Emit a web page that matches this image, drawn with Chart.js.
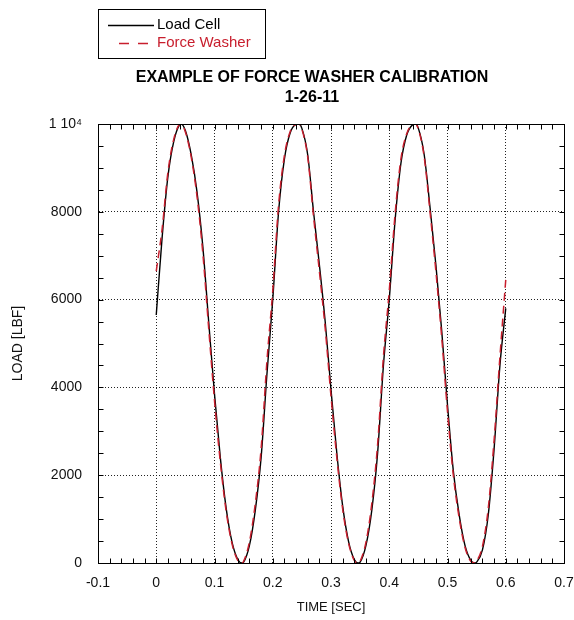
<!DOCTYPE html>
<html>
<head>
<meta charset="utf-8">
<script src="https://cdn.jsdelivr.net/npm/chart.js@4/dist/chart.umd.min.js"></script>
<style>
  body { margin: 0; background: #fff; }
  canvas { display: block; }
</style>
</head>
<body>
<canvas id="washer-chart" width="574" height="620"></canvas>
<script>
// sample times (sec)
var times = [0, 0.01, 0.02, 0.03, 0.04, 0.043, 0.05, 0.06, 0.07, 0.08, 0.09, 0.10, 0.11, 0.12, 0.13, 0.14, 0.147,
  0.15, 0.16, 0.17, 0.18, 0.19, 0.20, 0.21, 0.22, 0.23, 0.24, 0.245,
  0.25, 0.26, 0.27, 0.28, 0.29, 0.30, 0.31, 0.32, 0.33, 0.34, 0.347,
  0.35, 0.36, 0.37, 0.38, 0.39, 0.40, 0.41, 0.42, 0.43, 0.44, 0.445,
  0.45, 0.46, 0.47, 0.48, 0.49, 0.50, 0.51, 0.52, 0.53, 0.54, 0.547,
  0.55, 0.56, 0.57, 0.58, 0.59, 0.60];

var loadCell = [5650, 7400, 8800, 9600, 9980, 10000, 9850, 9300, 8450, 7200, 5500, 3850, 2400, 1250, 480, 80, 0,
  20, 400, 1200, 2400, 4300, 6000, 8000, 9200, 9800, 9990, 10000,
  9900, 9300, 8000, 6800, 5500, 3950, 2500, 1300, 500, 80, 0,
  20, 400, 1200, 2500, 4500, 6000, 7800, 9100, 9750, 9980, 10000,
  9900, 9300, 8100, 6800, 5300, 3600, 2100, 1100, 400, 60, 0,
  20, 300, 1100, 2600, 4500, 5800];

var forceWasher = [6650, 7600, 8900, 9650, 9990, 10000, 9820, 9250, 8350, 7050, 5350, 3700, 2300, 1180, 440, 60, 0,
  40, 480, 1350, 2600, 4600, 6200, 8150, 9280, 9830, 9995, 10000,
  9880, 9250, 7900, 6650, 5350, 3800, 2400, 1230, 460, 60, 0,
  40, 470, 1350, 2700, 4700, 6200, 7950, 9200, 9780, 9990, 10000,
  9880, 9250, 8000, 6650, 5150, 3450, 2000, 1030, 360, 40, 0,
  40, 380, 1250, 2800, 4700, 6450];

var xTickValues = [-0.1, 0, 0.1, 0.2, 0.3, 0.4, 0.5, 0.6, 0.7];
var xTickLabels = ["-0.1", "0", "0.1", "0.2", "0.3", "0.4", "0.5", "0.6", "0.7"];
var yTickValues = [0, 2000, 4000, 6000, 8000, 10000];
var yTickLabels = ["0", "2000", "4000", "6000", "8000", "1 10\u2074"];

var titleLines = ["EXAMPLE OF FORCE WASHER CALIBRATION", "1-26-11"];

function pts(vals) {
  return times.map(function (t, i) { return { x: t, y: vals[i] }; });
}

function labelFor(values, labels, v) {
  for (var i = 0; i < values.length; i++) {
    if (Math.abs(values[i] - v) < 1e-6 * (1 + Math.abs(v))) return labels[i];
  }
  return "";
}

var FONT = "'Liberation Sans', Arial, sans-serif";
Chart.defaults.font.family = FONT;
Chart.defaults.color = "#111";

// box, minor ticks, title and boxed legend
var framePlugin = {
  id: "frame",
  afterDraw: function (chart) {
    var ctx = chart.ctx, a = chart.chartArea;
    var xs = chart.scales.x, ys = chart.scales.y;
    ctx.save();
    ctx.strokeStyle = "#000";
    ctx.lineWidth = 1;
    ctx.setLineDash([]);
    var L = Math.round(a.left) + 0.5, R = Math.round(a.right) + 0.5;
    var T = Math.round(a.top) + 0.5, B = Math.round(a.bottom) + 0.5;
    ctx.strokeRect(L, T, R - L, B - T);

    ctx.beginPath();
    for (var i = 0; i <= 40; i++) {
      var px = Math.round(xs.getPixelForValue(-0.1 + i * 0.02)) + 0.5;
      ctx.moveTo(px, B); ctx.lineTo(px, B - 5);
      ctx.moveTo(px, T); ctx.lineTo(px, T + 5);
    }
    for (var j = 0; j <= 20; j++) {
      var py = Math.round(ys.getPixelForValue(j * 500)) + 0.5;
      ctx.moveTo(L, py); ctx.lineTo(L + 5, py);
      ctx.moveTo(R, py); ctx.lineTo(R - 5, py);
    }
    ctx.stroke();

    // title
    ctx.fillStyle = "#000";
    ctx.textAlign = "center";
    ctx.textBaseline = "middle";
    ctx.font = "bold 16px " + FONT;
    ctx.fillText(titleLines[0], 312, 78);
    ctx.fillText(titleLines[1], 312, 98);

    // legend
    ctx.strokeRect(98.5, 9.5, 167, 49);
    ctx.font = "15px " + FONT;
    ctx.textAlign = "left";
    var rows = [25, 43];
    chart.data.datasets.forEach(function (ds, k) {
      ctx.beginPath();
      ctx.strokeStyle = ds.borderColor;
      ctx.lineWidth = ds.borderWidth;
      ctx.setLineDash(k === 1 ? [10, 9] : []);
      ctx.moveTo(k === 1 ? 119 : 108, rows[k] + 0.5);
      ctx.lineTo(154, rows[k] + 0.5);
      ctx.stroke();
      ctx.fillStyle = k === 1 ? ds.borderColor : "#000";
      ctx.fillText(ds.label, 157, rows[k]);
    });
    ctx.restore();
  }
};

var config = {
  type: "line",
  data: {
    datasets: [
      {
        label: "Load Cell",
        data: pts(loadCell),
        borderColor: "#000",
        borderWidth: 1.4,
        pointRadius: 0,
        cubicInterpolationMode: "monotone",
        order: 1
      },
      {
        label: "Force Washer",
        data: pts(forceWasher),
        borderColor: "rgb(200, 30, 45)",
        borderWidth: 1.5,
        borderDash: [8, 5],
        pointRadius: 0,
        cubicInterpolationMode: "monotone",
        order: 0
      }
    ]
  },
  options: {
    responsive: false,
    devicePixelRatio: 1,
    animation: false,
    layout: { padding: { top: 124, right: 10, left: 0, bottom: 0 } },
    plugins: { legend: { display: false }, title: { display: false }, tooltip: { enabled: false } },
    scales: {
      x: {
        type: "linear",
        min: -0.1,
        max: 0.7,
        afterFit: function (s) { s.height = 57; s.paddingLeft = 0; s.paddingRight = 0; },
        afterBuildTicks: function (s) { s.ticks = xTickValues.map(function (v) { return { value: v }; }); },
        ticks: {
          padding: 12,
          font: { size: 14 },
          maxRotation: 0,
          callback: function (v) { return labelFor(xTickValues, xTickLabels, v); }
        },
        grid: { color: "#222", lineWidth: 1, drawTicks: false },
        border: { display: true, color: "#000", dash: [1, 2] },
        title: { display: true, text: "TIME [SEC]", font: { size: 13 }, padding: { bottom: 5, top: 0 } }
      },
      y: {
        type: "linear",
        min: 0,
        max: 10000,
        afterFit: function (s) { s.width = 98; },
        afterBuildTicks: function (s) { s.ticks = yTickValues.map(function (v) { return { value: v }; }); },
        ticks: {
          padding: 16,
          font: { size: 14 },
          callback: function (v) { return labelFor(yTickValues, yTickLabels, v); }
        },
        grid: { color: "#222", lineWidth: 1, drawTicks: false },
        border: { display: true, color: "#000", dash: [1, 2] },
        title: { display: true, text: "LOAD [LBF]", font: { size: 14 }, padding: { top: 10, bottom: 0 } }
      }
    }
  },
  plugins: [framePlugin]
};

window.onload = function () {
  var ctx = document.getElementById("washer-chart").getContext("2d");
  window.washerChart = new Chart(ctx, config);
};
</script>
</body>
</html>
